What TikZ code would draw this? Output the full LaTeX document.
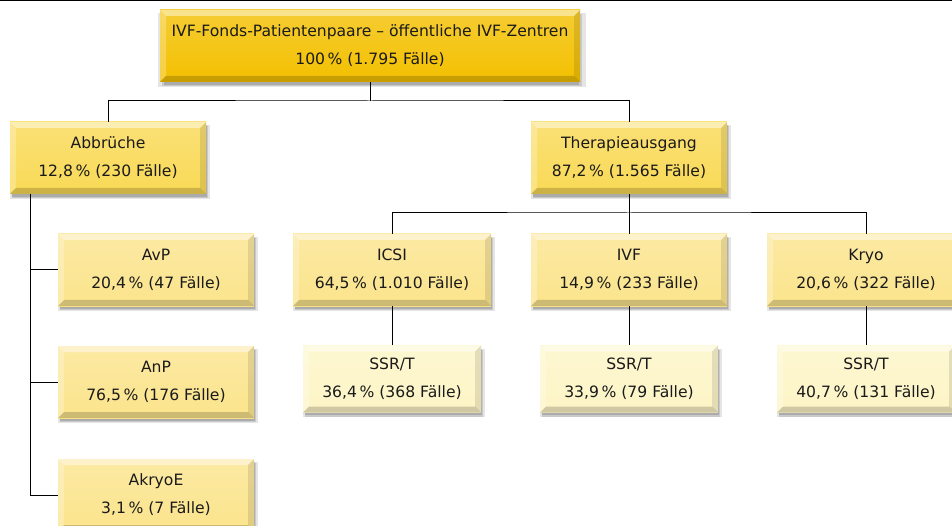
\documentclass[tikz,border=0pt]{standalone}
\usepackage{fontspec}
\setmainfont{DejaVu Sans}
\usetikzlibrary{shadows}
\definecolor{cRoot}{HTML}{F3C000}
\definecolor{cTwo}{HTML}{F9D955}
\definecolor{cThree}{HTML}{FBE48C}
\definecolor{cFour}{HTML}{FDF5C6}
\definecolor{cTxt}{HTML}{1A1A1A}
\tikzset{
  softshadow/.style={
    drop shadow={shadow xshift=2pt, shadow yshift=-4pt, opacity=0.10, fill=black, shadow scale=1.02},
    drop shadow={shadow xshift=2pt, shadow yshift=-4pt, opacity=0.12, fill=black},
    drop shadow={shadow xshift=1.5pt, shadow yshift=-3pt, opacity=0.15, fill=black, shadow scale=0.99}},
  bx/.style={rectangle, minimum width=196pt, minimum height=72pt, inner sep=0pt,
    align=center, text=cTxt, font=\fontsize{15.6}{28}\selectfont,
    top color=#1!80!white, bottom color=#1, softshadow,
    path picture={
      \fill[white,opacity=0.45] (path picture bounding box.north west) -- (path picture bounding box.north east)
        -- ([shift={(-6pt,-6pt)}]path picture bounding box.north east) -- ([shift={(6pt,-6pt)}]path picture bounding box.north west) -- cycle;
      \fill[white,opacity=0.25] (path picture bounding box.north west) -- (path picture bounding box.south west)
        -- ([shift={(6pt,6pt)}]path picture bounding box.south west) -- ([shift={(6pt,-6pt)}]path picture bounding box.north west) -- cycle;
      \fill[black,opacity=0.18] (path picture bounding box.south west) -- (path picture bounding box.south east)
        -- ([shift={(-6pt,6pt)}]path picture bounding box.south east) -- ([shift={(6pt,6pt)}]path picture bounding box.south west) -- cycle;
      \fill[black,opacity=0.10] (path picture bounding box.north east) -- (path picture bounding box.south east)
        -- ([shift={(-6pt,6pt)}]path picture bounding box.south east) -- ([shift={(-6pt,-6pt)}]path picture bounding box.north east) -- cycle;
    }},
  conn/.style={draw=black, line width=1pt},
}
\begin{document}
\begin{tikzpicture}[x=1pt,y=-1pt]
\useasboundingbox (0,0) rectangle (952,526);
\fill[black] (0,0) rectangle (952,1.5);

\node[bx=cRoot, minimum width=420pt] (root) at (370,46) {IVF-Fonds-Patientenpaare – öffentliche IVF-Zentren\\100\,\% (1.795 Fälle)};
\node[bx=cTwo] (abb) at (108,158) {Abbrüche\\12,8\,\% (230 Fälle)};
\node[bx=cTwo] (ther) at (629,158) {Therapieausgang\\87,2\,\% (1.565 Fälle)};

\node[bx=cThree, minimum width=198pt] (icsi) at (392,270) {ICSI\\64,5\,\% (1.010 Fälle)};
\node[bx=cThree] (ivf) at (629,270) {IVF\\14,9\,\% (233 Fälle)};
\node[bx=cThree, minimum width=198pt] (kryo) at (866,270) {Kryo\\20,6\,\% (322 Fälle)};

\node[bx=cFour, minimum width=178pt, minimum height=67pt] (s1) at (392,379) {SSR/T\\36,4\,\% (368 Fälle)};
\node[bx=cFour, minimum width=178pt, minimum height=67pt] (s2) at (629,379) {SSR/T\\33,9\,\% (79 Fälle)};
\node[bx=cFour, minimum width=178pt, minimum height=67pt] (s3) at (866,379) {SSR/T\\40,7\,\% (131 Fälle)};

\node[bx=cThree] (avp) at (156,270) {AvP\\20,4\,\% (47 Fälle)};
\node[bx=cThree] (anp) at (156,382) {AnP\\76,5\,\% (176 Fälle)};
\node[bx=cThree] (akr) at (156,495) {AkryoE\\3,1\,\% (7 Fälle)};

\coordinate (j1) at (370,101);
\coordinate (j2) at (629,213);
\coordinate (a0) at (30,194);

\draw[conn] (root.south) -- (j1);
\draw[conn] (abb.north) |- (j1) -| (ther.north);
\draw[conn] (ther.south) -- (j2);
\draw[conn] (icsi.north) |- (j2) -| (kryo.north);
\draw[conn] (ivf.north) -- (j2);
\draw[conn] (icsi.south) -- (s1.north);
\draw[conn] (ivf.south) -- (s2.north);
\draw[conn] (kryo.south) -- (s3.north);
\draw[conn] (a0) |- (avp.west);
\draw[conn] (a0) |- (anp.west);
\draw[conn] (a0) |- (akr.west);
\end{tikzpicture}
\end{document}
